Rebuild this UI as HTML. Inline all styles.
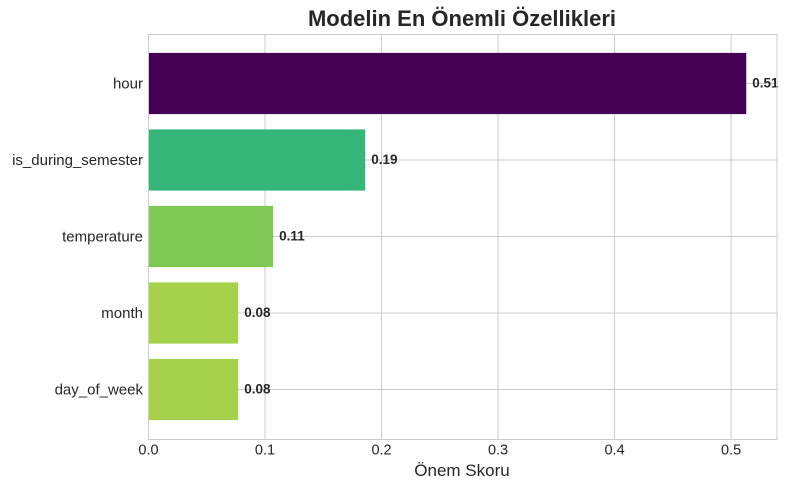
<!DOCTYPE html>
<html><head><meta charset="utf-8"><style>
body{margin:0;background:#fff;}
svg text{font-family:"Liberation Sans",sans-serif;}
</style></head><body>
<svg id="chart" width="789" height="490" xmlns="http://www.w3.org/2000/svg">
<text x="462" y="26" text-anchor="middle" font-size="22" font-weight="bold" fill="#262626">Modelin En Önemli Özellikleri</text>
<g id="grid"></g><g id="bars"></g><g id="labels"></g>
<rect x="148.5" y="34.5" width="628.5" height="405" fill="none" stroke="#cccccc" stroke-width="1"/>
<text x="462" y="476" text-anchor="middle" font-size="17" fill="#262626">Önem Skoru</text>
</svg>
<script>
const categories=["hour","is_during_semester","temperature","month","day_of_week"];
const values=[0.513,0.186,0.107,0.077,0.077];
const colors=["#440154","#35b779","#7ec856","#a5d24a","#a5d24a"];
const xTicks=[0.0,0.1,0.2,0.3,0.4,0.5];
const X0=148.5,X1=777,Y0=34.5,Y1=439.5,XMAX=0.5394;
const NS="http://www.w3.org/2000/svg";
function x(v){return X0+v/XMAX*(X1-X0);}
const step=76.5;
function y(i){return Y0+49+i*step;}
function mk(t,a,p){const e=document.createElementNS(NS,t);for(const k in a)e.setAttribute(k,a[k]);p.appendChild(e);return e;}
const grid=document.getElementById('grid'),bars=document.getElementById('bars'),labels=document.getElementById('labels');
xTicks.forEach(t=>{
 const gl=mk('line',{x1:x(t),x2:x(t),y1:Y0,y2:Y1,stroke:'#cccccc','stroke-width':1},grid);
 
 
 const tl=mk('text',{x:x(t),y:Y1+15,'text-anchor':'middle','font-size':14.5,fill:'#262626'},labels);
 tl.textContent=t.toFixed(1);
 
 
});
categories.forEach((c,i)=>{
 const gl=mk('line',{x1:X0,x2:X1,y1:y(i),y2:y(i),stroke:'#cccccc','stroke-width':1},grid);
 
 
 const h=step*0.8;
 const b=mk('rect',{x:X0,y:y(i)-h/2,width:x(values[i])-X0,height:h,fill:colors[i]},bars);
 
 
 const yl=mk('text',{x:143,y:y(i)+5,'text-anchor':'end','font-size':15,fill:'#262626'},labels);
 yl.textContent=c;
 
 
 const vl=mk('text',{x:x(values[i])+6,y:y(i)+4,'font-size':13.5,'font-weight':'bold',fill:'#262626'},labels);
 vl.textContent=values[i].toFixed(2);
 
 
});
</script>
</body></html>
